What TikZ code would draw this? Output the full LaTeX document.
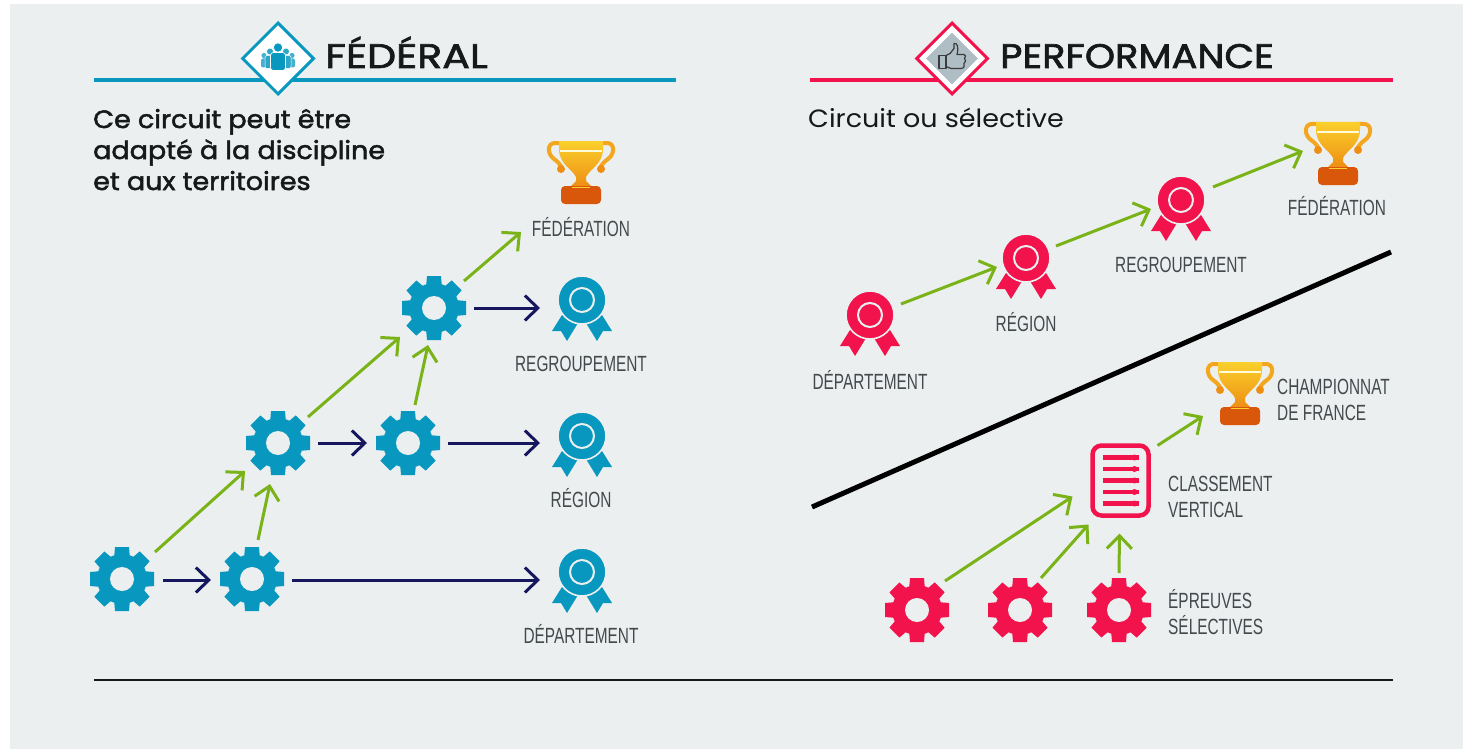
\documentclass[tikz,border=0pt]{standalone}
\usepackage{fontspec}
\usetikzlibrary{arrows.meta,shapes.geometric}
\setmainfont{Poppins}
\newfontfamily\headaf[FakeStretch=1.21,FakeBold=2]{Poppins}
\newfontfamily\headbf[FakeStretch=1.13,FakeBold=2]{Poppins}
\newfontfamily\bodyf[FakeStretch=1.08,FakeBold=2]{Poppins}
\newfontfamily\plainf[FakeStretch=1.08]{Poppins}
\newfontfamily\condf[FakeStretch=0.70]{Liberation Sans}
\definecolor{bgc}{HTML}{ECEFF0}
\definecolor{teal}{HTML}{0897BE}
\definecolor{rosso}{HTML}{F2124C}
\definecolor{navy}{HTML}{17175F}
\definecolor{vert}{HTML}{7AB317}
\definecolor{lab}{HTML}{44494C}
\definecolor{ink}{HTML}{16181A}
\definecolor{tropha}{HTML}{FAD02C}
\definecolor{trophb}{HTML}{EE8F14}
\definecolor{trophc}{HTML}{F2A71F}
\definecolor{trophd}{HTML}{D8570B}
\definecolor{diagrey}{HTML}{AFBEC4}
\tikzset{
  x=1pt,y=-1pt,
  gr/.style={draw=vert,line width=3pt,-{Straight Barb[length=13pt,width=25pt,line width=3pt]}},
  nv/.style={draw=navy,line width=3pt,-{Straight Barb[length=13pt,width=25pt,line width=3pt]}},
  icon/.style={circle,inner sep=0pt,minimum size=64pt},
  lbl/.style={font=\condf\fontsize{22}{25.5}\selectfont,text=lab,inner sep=0pt,align=left},
  gear/.pic={
    \fill[#1] (0,0) circle (25);
    \foreach \a in {0,45,...,315}{
      \fill[#1,rotate=\a] (-7,-32) -- (7,-32) -- (8,-20) -- (-8,-20) -- cycle;
    }
    \fill[bgc] (0,0) circle (12);
  },
  medal/.pic={
    \foreach \s in {-1,1}{
      \fill[#1,xscale=\s] (-20,15) -- (-30,31) -- (-21,31) -- (-15,41) -- (-4,23) -- cycle;
    }
    \fill[#1,draw=bgc,line width=1.6pt] (0,0) circle (24);
    \draw[bgc,line width=2pt] (0,0) circle (12);
  },
  trophy/.pic={
    \foreach \s in {-1,1}{
      \begin{scope}[xscale=\s]
      \draw[trophc,line width=4pt,line cap=round]
        (18,3) -- (26,3) .. controls (34,3) and (34,14) .. (27,19) .. controls (24,21) and (21,24) .. (19,28);
      \fill[trophb] (20,29) circle (4);
      \end{scope}
    }
    \shade[top color=tropha,bottom color=trophb]
      (-22,1) -- (22,1) -- (22,9) .. controls (22,24) and (8,30) .. (5,37) -- (5,41) -- (10,46) -- (-10,46) -- (-5,41) -- (-5,37) .. controls (-8,30) and (-22,24) .. (-22,9) -- cycle;
    \draw[white!85!yellow,line width=1.2pt] (-21,11) -- (21,11);
    \fill[trophd,rounded corners=4pt] (-20,46) rectangle (20,64);
    \draw[tropha,line width=1.2pt] (-9,47.5) -- (9,47.5);
  },
}
\begin{document}
\begin{tikzpicture}
\useasboundingbox (0,0) rectangle (1463,749);
\fill[white] (0,0) rectangle (1463,749);
\fill[bgc] (10,4) rectangle (1463,749);

% headers
\draw[teal,line width=4pt] (94,80) -- (676,80);
\draw[rosso,line width=4pt] (810,80) -- (1393,80);
\node[diamond,aspect=1,draw=teal,fill=white,line width=3pt,minimum size=72pt,inner sep=0pt] (dfed) at (278,58.5) {};
\node[diamond,aspect=1,draw=rosso,fill=white,line width=3pt,minimum size=72pt,inner sep=0pt] (dperf) at (952,58.5) {};
\node[diamond,aspect=1,fill=diagrey,minimum size=52pt,inner sep=0pt] (dperfin) at (dperf) {};
% people icon
\begin{scope}[shift={(dfed.center)}]
  \foreach \d in {-14,14}{
    \fill[teal!75] (\d,-3) circle (2.6);
    \fill[teal!75,rounded corners=2pt] (\d-3,0) rectangle (\d+3,9);
  }
  \foreach \d in {-8,8}{
    \fill[teal!85,draw=white,line width=.5pt] (\d,-7) circle (3.4);
    \fill[teal!85,draw=white,line width=.5pt,rounded corners=2pt] (\d-5,-3) rectangle (\d+5,10);
  }
  \fill[teal,draw=white,line width=.6pt] (0,-11) circle (4.6);
  \fill[teal,draw=white,line width=.6pt,rounded corners=3pt] (-7.5,-6) rectangle (7.5,12);
\end{scope}
% thumb icon
\begin{scope}[shift={(dperf.center)}]
  \draw[ink!85,line width=1.2pt,line join=round]
    (-13,-3) rectangle (-6,10);
  \draw[ink!85,line width=1.2pt,line join=round]
    (-6,-3) -- (-2,-5) -- (2,-10) -- (2,-15) .. controls (5,-16) and (7,-12) .. (5,-4) -- (12,-4)
    .. controls (14,-4) and (14,-1) .. (12.5,0) .. controls (14,1) and (14,4) .. (12,5)
    .. controls (13,7) and (12,10) .. (9,10) -- (-1,10) -- (-6,8) -- cycle;
\end{scope}
\node[anchor=base west,inner sep=0pt,text=ink,font=\headaf\fontsize{34}{34}\selectfont] (tfed) at (325,68) {FÉDÉRAL};
\node[anchor=base west,inner sep=0pt,text=ink,font=\headbf\fontsize{34}{34}\selectfont] (tperf) at (1000,68) {PERFORMANCE};
\node[anchor=base west,inner sep=0pt,text=ink,align=left,font=\bodyf\fontsize{25}{31}\selectfont] (sfed) at (93,190) {Ce circuit peut être\\adapté à la discipline\\et aux territoires};
\node[anchor=base west,inner sep=0pt,text=ink,font=\plainf\fontsize{25}{31}\selectfont] (sperf) at (808,128) {Circuit ou sélective};

% left icons
\foreach \n/\x/\y in {g1/122/579,g2/252/579,g3/278/443,g4/408/443,g5/434/308}{
  \node[icon] (\n) at (\x,\y) {};
  \pic at (\n) {gear=teal};
}
\foreach \n/\x/\y in {mreg/582/300,mrgn/582/436,mdep/582/572}{
  \node[icon] (\n) at (\x,\y) {};
  \pic at (\n) {medal=teal};
}
\node[icon] (tfd) at (581,172) {};
\pic at ([shift={(0,-32)}]tfd.center) {trophy};

% right icons
\foreach \n/\x/\y in {rmdep/870/315,rmrgn/1026/258,rmreg/1181/200}{
  \node[icon] (\n) at (\x,\y) {};
  \pic at (\n) {medal=rosso};
}
\node[icon] (rtfd) at (1338,153) {};
\pic at ([shift={(0,-32)}]rtfd.center) {trophy};
\node[icon] (rtch) at (1240,393) {};
\pic at ([shift={(0,-32)}]rtch.center) {trophy};
\foreach \n/\x/\y in {r1/917/610,r2/1020/610,r3/1119/610}{
  \node[icon] (\n) at (\x,\y) {};
  \pic at (\n) {gear=rosso};
}
\node[draw=rosso,line width=4.5pt,rounded corners=9pt,minimum width=56pt,minimum height=70pt,inner sep=0pt,fill=bgc] (cls) at (1120.5,480.5) {};
\foreach \d in {-23,-11.5,0,11.5,23}{
  \draw[rosso,line width=4.5pt] ([shift={(-18,\d)}]cls.center) -- ([shift={(18,\d)}]cls.center);
  \fill[rosso] ([shift={(14,\d)}]cls.center) circle (3);
}

% labels
\node[lbl] (l1) at (581,227) {FÉDÉRATION};
\node[lbl] (l2) at (581,364) {REGROUPEMENT};
\node[lbl] (l3) at (581,498) {RÉGION};
\node[lbl] (l4) at (581,634) {DÉPARTEMENT};
\node[lbl] (l5) at (1337,206) {FÉDÉRATION};
\node[lbl] (l6) at (1181,265) {REGROUPEMENT};
\node[lbl] (l7) at (1026,322) {RÉGION};
\node[lbl] (l8) at (870,380) {DÉPARTEMENT};
\node[lbl,anchor=west] (l9) at (1277,400) {CHAMPIONNAT\\DE FRANCE};
\node[lbl,anchor=west] (l10) at (1168,497) {CLASSEMENT\\VERTICAL};
\node[lbl,anchor=west] (l11) at (1168,612) {ÉPREUVES\\SÉLECTIVES};

% left connectors
\draw[nv] ([shift={(41,1)}]g1.center) -- ([shift={(-41,1)}]g2.center);
\draw[gr] ([shift={(33,-27)}]g1.center) -- ([shift={(-33,28)}]g3.center);
\draw[gr] ([shift={(6,-39)}]g2.center) -- ([shift={(-8,41)}]g3.center);
\draw[nv] ([shift={(40,0)}]g3.center) -- ([shift={(-41,0)}]g4.center);
\draw[gr] ([shift={(30,-26)}]g3.center) -- ([shift={(-34,29)}]g5.center);
\draw[gr] ([shift={(7,-38)}]g4.center) -- ([shift={(-6,37)}]g5.center);
\draw[nv] ([shift={(40,0)}]g5.center) -- ([shift={(-42,8)}]mreg.center);
\draw[gr] ([shift={(30,-27)}]g5.center) -- ([shift={(-60,60)}]tfd.center);
\draw[nv] ([shift={(40,0)}]g4.center) -- ([shift={(-42,7)}]mrgn.center);
\draw[nv] ([shift={(40,1)}]g2.center) -- ([shift={(-42,8)}]mdep.center);

% right connectors
\draw[gr] ([shift={(31,-11)}]rmdep.center) -- ([shift={(-29,9)}]rmrgn.center);
\draw[gr] ([shift={(30,-12)}]rmrgn.center) -- ([shift={(-30,9)}]rmreg.center);
\draw[gr] ([shift={(32,-13)}]rmreg.center) -- ([shift={(-35,-2)}]rtfd.center);
\draw[gr] ([shift={(37,-35)}]cls.center) -- ([shift={(-37,23)}]rtch.center);
\draw[gr] ([shift={(28,-29)}]r1.center) -- ([shift={(-48,16)}]cls.center);
\draw[gr] ([shift={(21,-32)}]r2.center) -- ([shift={(-32,44)}]cls.center);
\draw[gr] ([shift={(0,-37)}]r3.center) -- ([shift={(-1,53)}]cls.center);

% dividers
\coordinate (da) at (812,507);
\coordinate (db) at (1391,252);
\draw[black,line width=5pt] (da) -- (db);
\coordinate (ba) at (94,680);
\coordinate (bb) at (1393,680);
\draw[ink,line width=1.6pt] (ba) -- (bb);
\end{tikzpicture}
\end{document}
